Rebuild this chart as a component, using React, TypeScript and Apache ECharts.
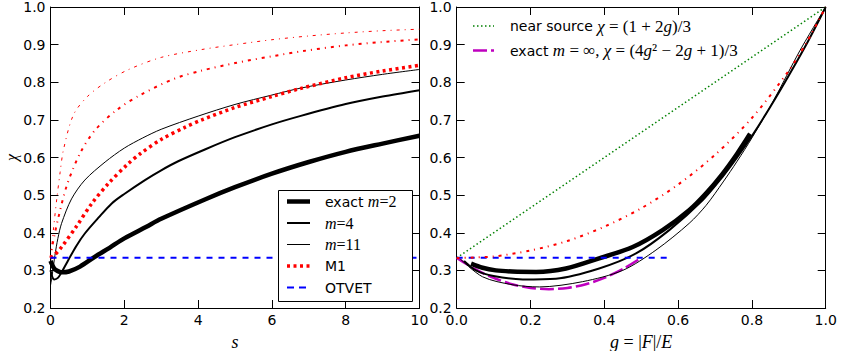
import React, { useEffect, useRef } from "react";
import * as echarts from "echarts";

// ---------- Left panel: chi vs s ----------
const S_M2 = [0, 0.1, 0.2, 0.3, 0.5, 0.8, 1.2, 1.6, 2, 2.6, 3, 4.2, 5, 6, 7, 8, 9, 10];
const CHI_M2 = [0.325, 0.305, 0.298, 0.295, 0.297, 0.31, 0.336, 0.36, 0.385, 0.416, 0.437, 0.489, 0.521, 0.557, 0.588, 0.615, 0.637, 0.658];

const S_M4 = [0, 0.05, 0.1, 0.2, 0.3, 0.48, 0.7, 0.93, 1.3, 1.66, 2, 2.56, 3, 3.46, 4.2, 5, 6, 6.76, 8, 9, 10];
const CHI_M4 = [0.3, 0.282, 0.276, 0.28, 0.295, 0.327, 0.365, 0.398, 0.44, 0.478, 0.503, 0.54, 0.566, 0.59, 0.622, 0.654, 0.688, 0.71, 0.742, 0.762, 0.779];

const S_M11 = [0, 0.05, 0.12, 0.2, 0.3, 0.57, 0.93, 1.48, 2, 2.5, 3, 4, 5, 6, 6.76, 8, 9, 10];
const CHI_M11 = [0.26, 0.29, 0.34, 0.385, 0.425, 0.49, 0.54, 0.588, 0.625, 0.652, 0.675, 0.71, 0.741, 0.766, 0.784, 0.806, 0.821, 0.834];

const S_M1 = [0, 0.1, 0.3, 0.71, 1.12, 1.57, 2.11, 2.43, 3, 3.64, 4.1, 5, 6, 6.76, 8, 9, 10];
const CHI_M1 = [0.333, 0.34, 0.362, 0.418, 0.478, 0.531, 0.584, 0.61, 0.648, 0.68, 0.7, 0.733, 0.762, 0.783, 0.812, 0.83, 0.845];

const S_RED_A = [0, 0.03, 0.08, 0.17, 0.26, 0.35, 0.62, 1, 1.5, 2.1, 3, 4.1, 5, 6, 7, 8, 9, 10];
const CHI_RED_A = [0.333, 0.36, 0.41, 0.49, 0.56, 0.62, 0.713, 0.762, 0.8, 0.833, 0.866, 0.887, 0.9, 0.913, 0.923, 0.931, 0.937, 0.941];

const S_RED_B = [0, 0.05, 0.1, 0.2, 0.44, 0.8, 1.21, 1.79, 2.43, 3.37, 4.1, 5, 6, 6.85, 8, 9, 10];
const CHI_RED_B = [0.333, 0.365, 0.39, 0.435, 0.525, 0.611, 0.673, 0.726, 0.766, 0.81, 0.831, 0.851, 0.869, 0.883, 0.898, 0.907, 0.914];

const S_OTVET = [0, 10];
const CHI_OTVET = [0.3333, 0.3333];

// ---------- Right panel: chi vs g ----------
const G_NEAR = [0, 1];
const CHI_NEAR = [0.3333, 1.0];

const G_INF = [0, 0.05, 0.1, 0.15, 0.2, 0.25, 0.3, 0.35, 0.4, 0.45, 0.5];
const CHI_INF = [0.3333, 0.3033, 0.28, 0.2633, 0.2533, 0.25, 0.2533, 0.2633, 0.28, 0.3033, 0.3333];

const G_OTVET = [0, 0.578];
const CHI_G_OTVET = [0.3333, 0.3333];

const G_M1 = [0, 0.1, 0.2, 0.3, 0.4, 0.5, 0.6, 0.7, 0.8, 0.9, 0.95, 1.0];
const CHI_G_M1 = [0.333, 0.337, 0.353, 0.378, 0.416, 0.465, 0.528, 0.607, 0.705, 0.831, 0.909, 1.0];

const G_M2 = [0.039, 0.07, 0.106, 0.15, 0.215, 0.296, 0.386, 0.477, 0.558, 0.63, 0.676, 0.72, 0.76, 0.795];
const CHI_G_M2 = [0.318, 0.307, 0.3, 0.297, 0.296, 0.305, 0.332, 0.362, 0.407, 0.46, 0.505, 0.556, 0.61, 0.663];

const G_M4 = [0.02, 0.052, 0.1, 0.179, 0.269, 0.386, 0.486, 0.576, 0.667, 0.72, 0.76, 0.8, 0.85, 0.9, 0.95, 1.0];
const CHI_G_M4 = [0.325, 0.3, 0.285, 0.276, 0.278, 0.305, 0.345, 0.407, 0.487, 0.548, 0.6, 0.657, 0.735, 0.818, 0.905, 1.0];

const G_M11 = [0.01, 0.07, 0.15, 0.224, 0.341, 0.45, 0.54, 0.63, 0.676, 0.722, 0.76, 0.8, 0.858, 0.93, 1.0];
const CHI_G_M11 = [0.33, 0.283, 0.262, 0.256, 0.27, 0.3, 0.354, 0.425, 0.473, 0.535, 0.59, 0.652, 0.75, 0.884, 1.0];

const LEFT_X_TICKS = [0, 2, 4, 6, 8, 10];
const Y_TICKS = [0.2, 0.3, 0.4, 0.5, 0.6, 0.7, 0.8, 0.9, 1.0];

const SANS = "DejaVu Sans";
const SERIF = "Liberation Serif";

const zip = (xs: number[], ys: number[]) => xs.map((x, i) => [x, ys[i]]);

function line(
  xs: number[],
  ys: number[],
  color: string,
  width: number,
  dash: any,
  xi: number,
  yi: number,
  z: number,
  smooth: boolean = true
) {
  return {
    type: "line",
    data: zip(xs, ys),
    xAxisIndex: xi,
    yAxisIndex: yi,
    showSymbol: false,
    symbol: "none",
    smooth: smooth ? 0.3 : false,
    silent: true,
    z,
    lineStyle: { color, width, type: dash, cap: "butt", join: "round" },
    itemStyle: { color },
    emphasis: { disabled: true },
  };
}

function frameAxes(gridIndex: number, xmin: number, xmax: number, xint: number, xfmt: (v: number) => string) {
  const tick = { show: true, inside: true, length: 8, lineStyle: { color: "#000", width: 1 } };
  const axLine = { show: true, onZero: false, lineStyle: { color: "#000", width: 1 } };
  const lbl = { color: "#000", fontFamily: SANS, fontSize: 14 };
  const xAxes = [
    {
      type: "value", gridIndex, position: "bottom", min: xmin, max: xmax, interval: xint,
      axisLine: axLine, axisTick: tick, splitLine: { show: false },
      axisLabel: { ...lbl, margin: 5, formatter: xfmt },
    },
    {
      type: "value", gridIndex, position: "top", min: xmin, max: xmax, interval: xint,
      axisLine: axLine, axisTick: tick, splitLine: { show: false }, axisLabel: { show: false },
    },
  ];
  const yAxes = [
    {
      type: "value", gridIndex, position: "left", min: Y_TICKS[0], max: Y_TICKS[Y_TICKS.length - 1], interval: 0.1,
      axisLine: axLine, axisTick: tick, splitLine: { show: false },
      axisLabel: { ...lbl, margin: 5, formatter: (v: number) => v.toFixed(1) },
    },
    {
      type: "value", gridIndex, position: "right", min: Y_TICKS[0], max: Y_TICKS[Y_TICKS.length - 1], interval: 0.1,
      axisLine: axLine, axisTick: tick, splitLine: { show: false }, axisLabel: { show: false },
    },
  ];
  return { xAxes, yAxes };
}

export default function App() {
  const ref = useRef<HTMLDivElement>(null);
  useEffect(() => {
    document.body.style.margin = "0";
    if (!ref.current) return;
    const chart = echarts.init(ref.current, undefined, { renderer: "svg" });

    const L = frameAxes(0, LEFT_X_TICKS[0], LEFT_X_TICKS[LEFT_X_TICKS.length - 1], 2, (v) => String(v));
    const R = frameAxes(1, 0, 1, 0.2, (v) => v.toFixed(1));

    const mathRich = {
      i: { fontFamily: SERIF, fontStyle: "italic", fontSize: 18, color: "#000" },
      n: { fontFamily: SERIF, fontSize: 18, color: "#000" },
    };
    const chiRich = {
      i: { fontFamily: SERIF, fontStyle: "italic", fontSize: 16, color: "#000" },
    };
    (L.xAxes[0] as any).name = "{i|s}";
    (L.xAxes[0] as any).nameLocation = "middle";
    (L.xAxes[0] as any).nameGap = 25;
    (L.xAxes[0] as any).nameTextStyle = { rich: mathRich };
    (L.yAxes[0] as any).name = "{i|χ}";
    (L.yAxes[0] as any).nameLocation = "middle";
    (L.yAxes[0] as any).nameGap = 31;
    (L.yAxes[0] as any).nameRotate = 90;
    (L.yAxes[0] as any).nameTextStyle = { rich: chiRich };
    (R.xAxes[0] as any).name = "{i|g}{n| = |}{i|F}{n||/}{i|E}";
    (R.xAxes[0] as any).nameLocation = "middle";
    (R.xAxes[0] as any).nameGap = 25;
    (R.xAxes[0] as any).nameTextStyle = { rich: mathRich };

    const dashDot = [3, 5, 1, 5];

    const series = [
      // left panel
      line(S_M2, CHI_M2, "#000", 4.5, "solid", 0, 0, 2),
      line(S_M4, CHI_M4, "#000", 2, "solid", 0, 0, 2),
      line(S_M11, CHI_M11, "#000", 1, "solid", 0, 0, 2),
      line(S_RED_A, CHI_RED_A, "#ff0000", 1, dashDot, 0, 0, 3),
      line(S_RED_B, CHI_RED_B, "#ff0000", 2, dashDot, 0, 0, 3),
      line(S_M1, CHI_M1, "#ff0000", 3.5, [3, 3.5], 0, 0, 3),
      line(S_OTVET, CHI_OTVET, "#0000ff", 2, [6, 6], 0, 0, 4, false),
      // right panel
      line(G_NEAR, CHI_NEAR, "#008000", 1.5, [1.5, 2.5], 2, 2, 2, false),
      line(G_INF, CHI_INF, "#bf00bf", 2.5, [14, 4], 2, 2, 2),
      line(G_M2, CHI_G_M2, "#000", 4.5, "solid", 2, 2, 3),
      line(G_M4, CHI_G_M4, "#000", 2, "solid", 2, 2, 3),
      line(G_M11, CHI_G_M11, "#000", 1, "solid", 2, 2, 3),
      line(G_OTVET, CHI_G_OTVET, "#0000ff", 2, [6, 6], 2, 2, 4, false),
      line(G_M1, CHI_G_M1, "#ff0000", 2, dashDot, 2, 2, 4),
    ];

    const richL = {
      s: { fontFamily: SANS, fontSize: 14, fill: "#000" },
      i: { fontFamily: SERIF, fontStyle: "italic", fontSize: 16, fill: "#000" },
      n: { fontFamily: SERIF, fontSize: 16, fill: "#000" },
    };
    const richR = {
      s: { fontFamily: SANS, fontSize: 14, fill: "#000" },
      i: { fontFamily: SERIF, fontStyle: "italic", fontSize: 17, fill: "#000" },
      n: { fontFamily: SERIF, fontSize: 17, fill: "#000" },
    };

    const legRowsL = [
      { y: 201.5, stroke: "#000", w: 4.5, dash: null, text: "{s|exact }{i|m}{n|=2}" },
      { y: 223, stroke: "#000", w: 2, dash: null, text: "{i|m}{n|=4}" },
      { y: 244.5, stroke: "#000", w: 1, dash: null, text: "{i|m}{n|=11}" },
      { y: 266, stroke: "#ff0000", w: 3.5, dash: [3, 3.5], text: "{s|M1}" },
      { y: 287.5, stroke: "#0000ff", w: 2, dash: [7, 5], text: "{s|OTVET}" },
    ];
    const legRowsR = [
      { y: 26, stroke: "#008000", w: 1.5, dash: [1.5, 2.5], text: "{s|near source }{i|χ}{n| = (1 + 2}{i|g}{n|)/3}" },
      { y: 50.5, stroke: "#bf00bf", w: 2.5, dash: [14, 4], text: "{s|exact }{i|m}{n| = ∞, }{i|χ}{n| = (4}{i|g}{n|² − 2}{i|g}{n| + 1)/3}" },
    ];

    const graphics: any[] = [
      {
        type: "rect", z: 100,
        shape: { x: 278.5, y: 190.5, width: 134, height: 111 },
        style: { fill: "#fff", stroke: "#000", lineWidth: 1 },
      },
    ];
    legRowsL.forEach((r) => {
      graphics.push({
        type: "line", z: 101,
        shape: { x1: 287, y1: r.y, x2: 310, y2: r.y },
        style: { stroke: r.stroke, lineWidth: r.w, lineDash: r.dash || undefined },
      });
      graphics.push({
        type: "text", z: 101, x: 325, y: r.y,
        style: { text: r.text, rich: richL, fill: "#000", verticalAlign: "middle", align: "left" },
      });
    });
    legRowsR.forEach((r) => {
      graphics.push({
        type: "line", z: 101,
        shape: { x1: 473, y1: r.y, x2: 494, y2: r.y },
        style: { stroke: r.stroke, lineWidth: r.w, lineDash: r.dash },
      });
      graphics.push({
        type: "text", z: 101, x: 510, y: r.y,
        style: { text: r.text, rich: richR, fill: "#000", verticalAlign: "middle", align: "left" },
      });
    });

    chart.setOption({
      animation: false,
      backgroundColor: "#fff",
      grid: [
        { left: 50.5, top: 7, width: 369, height: 301, outerBoundsMode: "none", containLabel: false },
        { left: 456.7, top: 7, width: 369, height: 301, outerBoundsMode: "none", containLabel: false },
      ],
      xAxis: [...L.xAxes, ...R.xAxes],
      yAxis: [...L.yAxes, ...R.yAxes],
      series,
      graphic: graphics,
    });
    return () => chart.dispose();
  }, []);
  return (
    <div
      ref={ref}
      style={{ position: "fixed", left: 0, top: 0, width: 843, height: 351, background: "#fff" }}
    />
  );
}
